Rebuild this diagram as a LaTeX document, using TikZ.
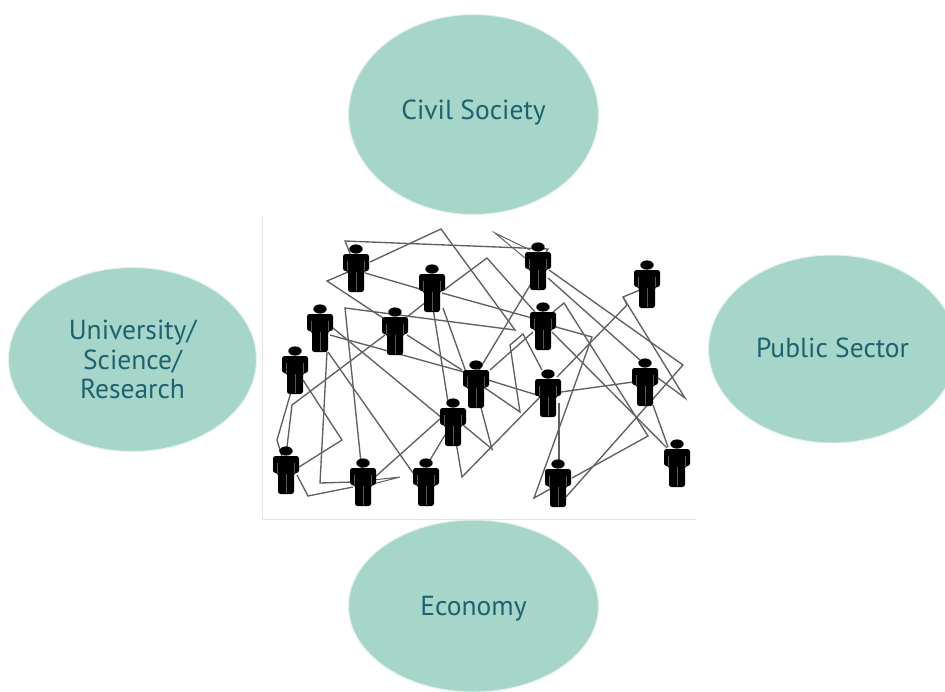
\documentclass[tikz,border=0pt]{standalone}
\usepackage{fontspec}
\setmainfont{PT Sans}
\definecolor{blob}{HTML}{A6D5C9}
\definecolor{blobtext}{HTML}{1E6270}
\definecolor{wire}{HTML}{606060}
\definecolor{frameline}{HTML}{E4E4E4}
\usetikzlibrary{shapes.geometric}
\tikzset{
  blob/.style={ellipse,fill=blob,draw=blob!30,line width=1pt,inner sep=0pt},
  blobtext/.style={text=blobtext,font=\fontsize{27.5}{29.5}\selectfont,align=center},
  anchorbox/.style={inner sep=0pt,minimum width=12pt,minimum height=20pt},
  wire/.style={draw=wire,line width=1.35pt,line join=miter},
  personbody/.pic={
    \fill[black] (0,-19) ellipse (6.7 and 4.6);
    \fill[black,rounded corners=2.5pt] (-13,-14) -- (13,-14) -- (13,3) -- (8,3) -- (8,24) -- (-8,24) -- (-8,3) -- (-13,3) -- cycle;
    \draw[black!65,line width=.6pt] (-8.5,-7) -- (-8.5,3);
    \draw[black!65,line width=.6pt] (8.5,-7) -- (8.5,3);
    \draw[black!65,line width=.7pt] (0,4) -- (0,23);
  }
}
\begin{document}
\begin{tikzpicture}[x=1pt,y=-1pt]
\useasboundingbox (0,0) rectangle (945,691);
\fill[white] (0,0) rectangle (945,691);
\begin{scope}
\clip (0,0) rectangle (945,691);
\node[blob,minimum width=250pt,minimum height=200pt] (civil) at (473.5,114.5) {};
\node[blob,minimum width=248pt,minimum height=184pt] (uni) at (132.5,359.5) {};
\node[blob,minimum width=248pt,minimum height=188pt] (pub) at (832.5,349) {};
\node[blob,minimum width=250pt,minimum height=172pt] (eco) at (473.5,606) {};
\end{scope}
\node[blobtext] (civilt) at (473.5,113) {Civil Society};
\node[blobtext] (unit) at (132.5,359.5) {University/\\Science/\\Research};
\node[blobtext] (pubt) at (832.5,348) {Public Sector};
\node[blobtext] (ecot) at (473.5,609) {Economy};
% photo panel
\fill[white] (262,216) rectangle (696,519);
\draw[frameline,line width=.8pt] (262.5,216) -- (262.5,519) -- (696,519);
% people anchors
\foreach \n/\x/\y in {1/356/268,2/432/288,3/538/266,4/647/284,5/320/328,6/395/331,7/543/326,8/295/370,9/476/384,10/548/393,11/645/382,12/453/422,13/286/470,14/363/482,15/426/482,16/558/483,17/677/463}{
  \node[anchorbox] (p\n) at (\x,\y) {};
}
% bend points
\foreach \n/\x/\y in {a/345/241,b/548/249,c/345/308,d/515/330,e/441/229,f/327/281,g/487/258,h/292/405,i/277/440,j/320/483,k/342/440,l/308/496,m/400/477,n/462/477,o/492/449,q/520/412,r/510/345,s/523/334,t/683/365,u/495/233,v/623/297,w/627/305,x/685/398,y/564/303,z/648/436,aa/592/337,ab/534/498}{
  \coordinate (\n) at (\x,\y);
}
\begin{scope}[wire]
\draw[wire] (p1.center) -- (a) -- (b) -- (p3.center);
\draw[wire] (p14.center) -- (c) -- (d) -- (e) -- ([shift={(14,-6)}]p1.center);
\draw[wire] ([shift={(-8,4)}]p1.center) -- (f) -- ([shift={(-12,-13)}]p6.center);
\draw[wire] ([shift={(9,5)}]p1.center) -- ([shift={(-12,1)}]p2.center);
\draw[wire] ([shift={(12,2)}]p2.center) -- (g) -- ([shift={(-8,-14)}]p7.center);
\draw[wire] ([shift={(10,5)}]p2.center) -- ([shift={(-11,-8)}]p7.center);
\draw[wire] ([shift={(1,20)}]p2.center) -- ([shift={(-5,-20)}]p12.center);
\draw[wire] ([shift={(11,20)}]p2.center) -- ([shift={(-10,-12)}]p9.center);
\draw[wire] ([shift={(-6,14)}]p2.center) -- ([shift={(12,-14)}]p6.center);
\draw[wire] ([shift={(10,7)}]p5.center) -- ([shift={(-12,-12)}]p9.center);
\draw[wire] ([shift={(13,0)}]p5.center) -- ([shift={(-11,-4)}]p12.center);
\draw[wire] ([shift={(12,4)}]p6.center) -- ([shift={(-14,-14)}]p9.center);
\draw[wire] ([shift={(-10,4)}]p6.center) -- (h) -- ([shift={(1,-23)}]p13.center);
\draw[wire] ([shift={(-4,22)}]p8.center) -- (i) -- (p13.center);
\draw[wire] ([shift={(7,24)}]p5.center) -- (j) -- ([shift={(-10,0)}]p14.center);
\draw[wire] ([shift={(8,24)}]p5.center) -- ([shift={(-13,-9)}]p15.center);
\draw[wire] ([shift={(8,10)}]p8.center) -- (k) -- ([shift={(13,-3)}]p13.center);
\draw[wire] ([shift={(11,5)}]p13.center) -- (l) -- ([shift={(-10,5)}]p14.center);
\draw[wire,line width=1pt] ([shift={(10,-2)}]p14.center) -- (m) -- ([shift={(10,2)}]p14.center);
\draw[wire] ([shift={(12,-5)}]p14.center) -- ([shift={(-12,-4)}]p12.center);
\draw[wire] ([shift={(4,-22)}]p15.center) -- ([shift={(-8,13)}]p12.center);
\draw[wire] ([shift={(3,20)}]p12.center) -- (n) -- ([shift={(-8,4)}]p10.center);
\draw[wire] ([shift={(10,3)}]p12.center) -- (o) -- ([shift={(4,20)}]p9.center);
\draw[wire] ([shift={(12,-4)}]p9.center) -- ([shift={(-11,2)}]p10.center);
\draw[wire] ([shift={(9,4)}]p9.center) -- (q) -- (r) -- (s) -- ([shift={(-6,-23)}]p10.center);
\draw[wire] ([shift={(-10,6)}]p7.center) -- ([shift={(14,-14)}]p9.center);
\draw[wire] ([shift={(-6,16)}]p3.center) -- ([shift={(3,-14)}]p9.center);
\draw[wire] ([shift={(11,4)}]p3.center) -- (t) -- ([shift={(8,14)}]p16.center);
\draw[wire] ([shift={(10,12)}]p3.center) -- ([shift={(-5,-22)}]p11.center);
\draw[wire,line width=1pt] ([shift={(-13,-8)}]p3.center) -- (u) -- ([shift={(-8,-16)}]p3.center);
\draw[wire] ([shift={(-7,6)}]p4.center) -- (v) -- (x) -- ([shift={(13,-4)}]p11.center);
\draw[wire] (v) -- (w) -- ([shift={(9,-16)}]p10.center);
\draw[wire] ([shift={(10,-14)}]p7.center) -- (y) -- (z) -- ([shift={(14,-5)}]p16.center);
\draw[wire] ([shift={(13,1)}]p7.center) -- (aa) -- (ab) -- ([shift={(-6,5)}]p16.center);
\draw[wire] ([shift={(9,6)}]p7.center) -- ([shift={(-10,-15)}]p17.center);
\draw[wire] ([shift={(13,-1)}]p10.center) -- ([shift={(-12,0)}]p11.center);
\draw[wire] ([shift={(8,23)}]p11.center) -- ([shift={(-9,-16)}]p17.center);
\draw[wire] ([shift={(11,10)}]p10.center) -- ([shift={(1,-15)}]p16.center);
\end{scope}
% people
\foreach \n/\x/\y in {1/356/268,2/432/288,3/538/266,4/647/284,5/320/328,6/395/331,7/543/326,8/295/370,9/476/384,10/548/393,11/645/382,12/453/422,13/286/470,14/363/482,15/426/482,16/558/483,17/677/463}{
  \pic at (\x,\y) {personbody};
}
\end{tikzpicture}
\end{document}
